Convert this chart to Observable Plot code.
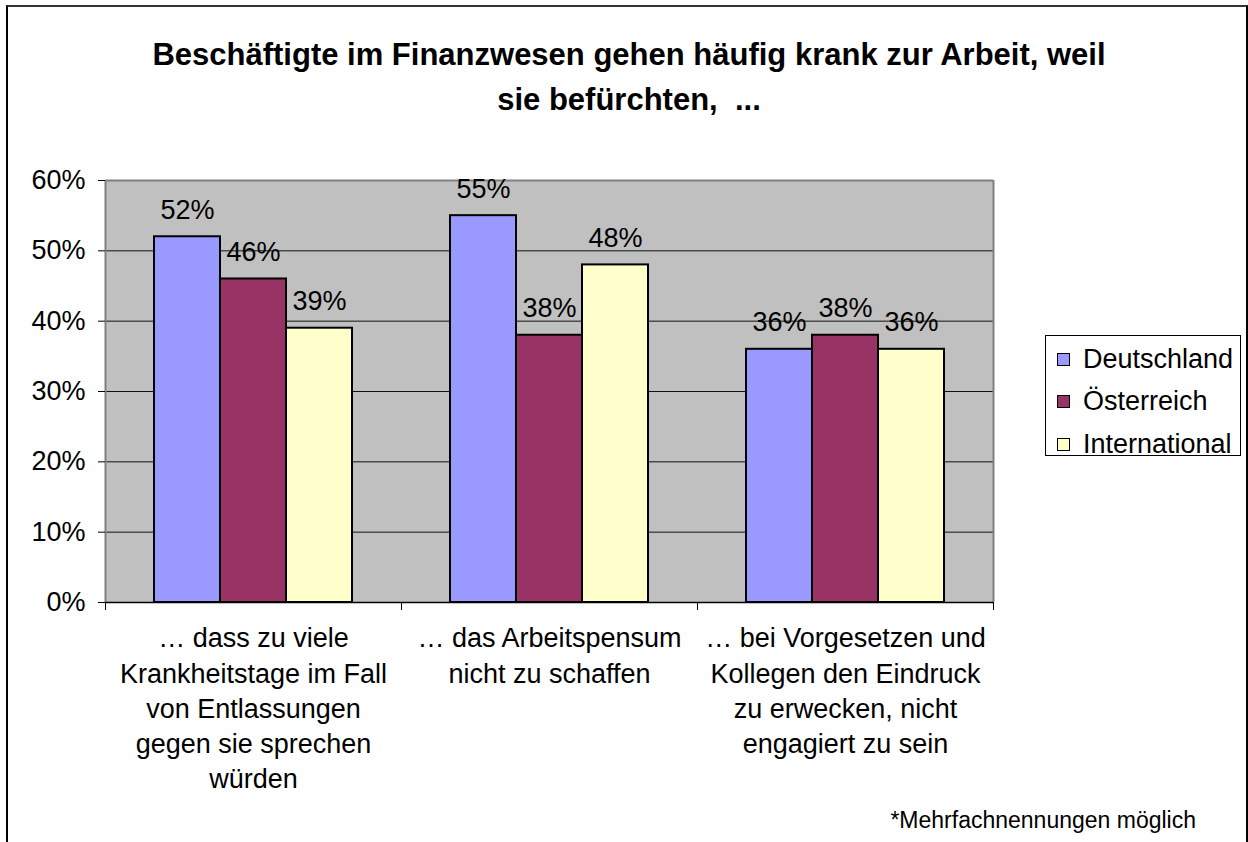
<!DOCTYPE html>
<html>
<head>
<meta charset="utf-8">
<script src="https://cdn.jsdelivr.net/npm/d3@7"></script>
<script src="https://cdn.jsdelivr.net/npm/@observablehq/plot@0.6"></script>
<style>
  html, body { margin: 0; padding: 0; background: #fff; }
  #wrap { position: relative; width: 1248px; height: 842px; overflow: hidden; font-family: "Liberation Sans", Arial, sans-serif; color: #000; }
  #chart { position: absolute; left: 0; top: 0; }
  #border { position: absolute; left: 6px; top: 5px; width: 1238px; height: 900px; border-left: 2px solid #000; border-right: 2px solid #000; border-top: 2px solid #333; }
  #title { position: absolute; left: 9px; width: 1240px; top: 32px; text-align: center; font-weight: bold; font-size: 31px; line-height: 45px; white-space: pre; }
  #legend { position: absolute; left: 1045px; top: 335px; width: 194px; height: 119px; border: 1px solid #000; background: #fff; }
  .row { position: absolute; left: 11px; height: 30px; display: flex; align-items: center; font-size: 27px; white-space: nowrap; }
  .sw { width: 11px; height: 11px; border: 1px solid #000; margin-right: 13px; }
  #foot { position: absolute; right: 52px; top: 807px; font-size: 23px; white-space: nowrap; }
</style>
</head>
<body>
<div id="wrap">
  <div id="chart"></div>
  <div id="border"></div>
  <div id="title"></div>
  <div id="legend"></div>
  <div id="foot"></div>
</div>
<script>
// ---- data ----
const titleLines = ["Beschäftigte im Finanzwesen gehen häufig krank zur Arbeit, weil", "sie befürchten,  ..."];
const categories = [
  "… dass zu viele\nKrankheitstage im Fall\nvon Entlassungen\ngegen sie sprechen\nwürden",
  "… das Arbeitspensum\nnicht zu schaffen",
  "… bei Vorgesetzen und\nKollegen den Eindruck\nzu erwecken, nicht\nengagiert zu sein"
];
const seriesNames = ["Deutschland", "Österreich", "International"];
const deutschland = [0.52, 0.55, 0.36];
const oesterreich = [0.46, 0.38, 0.38];
const international = [0.39, 0.48, 0.36];
const seriesColors = ["#9999FF", "#993366", "#FFFFCC"];
const yTicks = [0, 0.1, 0.2, 0.3, 0.4, 0.5, 0.6];
const footnote = "*Mehrfachnennungen möglich";

// ---- build table ----
const seriesValues = [deutschland, oesterreich, international];
const barW = 66 / 296;
const rows = [];
seriesValues.forEach((vals, j) => {
  vals.forEach((v, i) => {
    const x1 = i + 0.5 + (j - seriesNames.length / 2) * barW;
    rows.push({cat: i, series: seriesNames[j], value: v, x1, x2: x1 + barW});
  });
});
const fmt = d3.format(".0%");
const boundaries = d3.range(categories.length + 1);

const chart = Plot.plot({
  width: 1248,
  height: 842,
  marginLeft: 105,
  marginRight: 255,
  marginTop: 180,
  marginBottom: 240,
  style: {fontFamily: "'Liberation Sans', Arial, sans-serif", fontSize: "27px", color: "#000", background: "transparent"},
  x: {domain: [0, categories.length], axis: null},
  y: {domain: [0, 0.6], axis: null},
  color: {domain: seriesNames, range: seriesColors},
  marks: [
    Plot.frame({fill: "#C0C0C0", stroke: null}),
    Plot.ruleY(yTicks.filter(t => t > 0 && t < 0.6), {stroke: "#111", strokeWidth: 1}),
    Plot.rect(rows, {x1: "x1", x2: "x2", y1: () => 0, y2: "value", fill: "series", stroke: "#000", strokeWidth: 2}),
    Plot.ruleY([0.6], {stroke: "#808080", strokeWidth: 2}),
    Plot.ruleX([0, categories.length], {stroke: "#808080", strokeWidth: 2}),
    Plot.ruleY([0], {stroke: "#000", strokeWidth: 1.5}),
    Plot.axisY({ticks: yTicks, tickFormat: fmt, tickSize: 7, tickPadding: 13, fontSize: 27, stroke: "#000", label: null}),
    Plot.axisX({ticks: boundaries, tickFormat: () => "", tickSize: 8, stroke: "#000", label: null}),
    Plot.text(rows, {x: d => (d.x1 + d.x2) / 2, y: "value", text: d => fmt(d.value), lineAnchor: "bottom", dy: -18, fontSize: 27, fill: "#000"}),
    Plot.text(categories, {x: (d, i) => i + 0.5, y: () => 0, text: d => d, lineAnchor: "top", dy: 20, fontSize: 27, lineHeight: 1.3, fill: "#000"})
  ]
});
document.getElementById("chart").appendChild(chart);

document.getElementById("title").textContent = titleLines.join("\n");
document.getElementById("foot").textContent = footnote;

const legend = document.getElementById("legend");
seriesNames.forEach((name, j) => {
  const row = document.createElement("div");
  row.className = "row";
  row.style.top = (8 + j * 42.5) + "px";
  const sw = document.createElement("div");
  sw.className = "sw";
  sw.style.background = seriesColors[j];
  const lab = document.createElement("span");
  lab.textContent = name;
  row.appendChild(sw);
  row.appendChild(lab);
  legend.appendChild(row);
});
</script>
</body>
</html>
